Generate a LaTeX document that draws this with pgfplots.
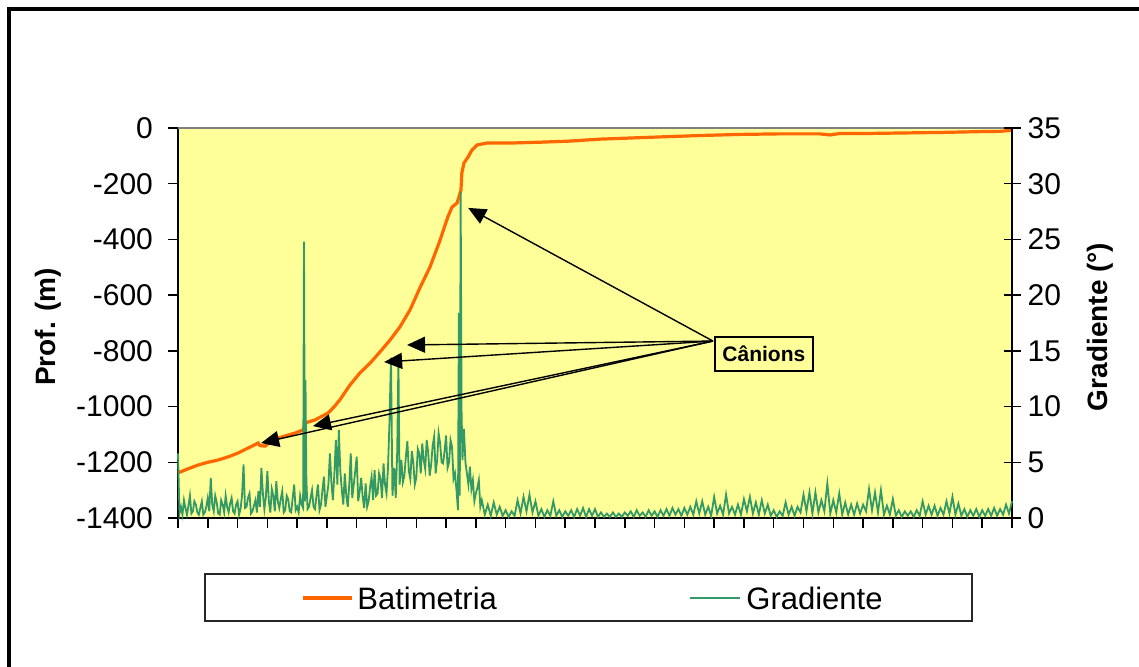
\documentclass[border=0pt]{standalone}
\usepackage{pgfplots}
\pgfplotsset{compat=1.18}
\usepackage{pgfplotstable}
\usepackage{fontspec}
\setmainfont{Liberation Sans}
\usetikzlibrary{arrows.meta}
\definecolor{bgyellow}{HTML}{FFFF99}
\definecolor{batorange}{HTML}{FF6600}
\definecolor{gradgreen}{HTML}{339966}

\pgfplotstableread{
x y
0 -1238
3 -1225
6.7 -1210
10 -1200
13.4 -1192
17 -1180
20.1 -1167
23.5 -1149
26.9 -1131
27.5 -1140
29.2 -1142
30.9 -1128
33.6 -1113
36.5 -1104
39.3 -1095
42.0 -1084
42.6 -1059
46.0 -1048
50.4 -1023
52.5 -1000
54.4 -975
57.7 -923
61.1 -879
64.5 -844
67.8 -804
71.2 -761
74.5 -714
77.9 -653
81.2 -574
84.6 -499
88.0 -402
90.6 -319
92.0 -284
93.7 -269
94.3 -248
95.0 -223
95.3 -161
96.0 -126
97.4 -104
98.7 -79
100.4 -61
103.7 -54
111.5 -54
121.5 -51
131.6 -47
141.7 -40
151.7 -36
161.8 -32
175.3 -27
188.7 -23
202.1 -21
215.5 -21
218.9 -25
222 -20
229 -20
242.4 -18
255.8 -16
269.3 -13
276 -12
280 -8
}\batimetria

\pgfplotstableread{
x y
0 5.8
0.5 0.4
1 1.0
1.5 0.3
2 1.6
2.5 0.9
3 0.3
3.5 1.1
4 2.0
4.5 0.4
5 0.6
5.5 1.5
6 1.2
6.5 0.5
7 0.3
7.5 0.9
8 1.5
8.5 0.3
9 0.5
9.5 1.0
10 1.8
10.5 0.6
11 3.6
11.5 1.2
12 0.6
12.5 2.0
13 1.4
13.5 0.4
14 0.3
14.5 1.6
15 1.2
15.5 0.5
16 2.0
16.5 1.0
17 0.5
17.5 1.3
18 1.8
18.5 0.6
19 0.4
19.5 1.2
20 1.5
20.5 0.3
21 0.8
21.5 2.0
22 4.8
22.5 0.9
23 1.0
23.5 1.8
24 2.2
24.5 0.4
25 0.6
25.5 1.1
26 1.6
26.5 0.5
27 2.4
27.5 1.0
28 4.5
28.5 2.2
29 0.8
29.5 1.9
30 4.2
30.5 1.5
31 0.5
31.5 2.6
32 2.0
32.5 0.6
33 3.3
33.5 1.5
34 0.9
34.5 1.7
35 2.4
35.5 0.5
36 0.7
36.5 2.0
37 1.7
37.5 0.6
38 0.5
38.5 1.8
39 3.0
39.5 0.7
40 1.0
40.5 0.5
41 2.0
41.5 1.2
42 0.9
42.3 24.8
42.6 1.5
42.8 12.4
43.1 3.4
43.5 0.8
44 1.0
44.5 1.8
45 2.5
45.5 1.0
46 0.8
46.5 2.0
47 3.0
47.5 0.7
48 1.2
48.5 2.5
49 3.7
49.5 1.0
50 2.0
50.5 3.0
51 5.8
51.5 3.2
52 1.6
52.5 4.0
53 7.0
53.5 3.0
54 7.9
54.5 4.2
55 2.5
55.5 1.2
56 4.0
56.5 2.0
57 1.0
57.5 3.0
58 5.8
58.5 1.8
59 3.0
59.5 4.2
60 5.5
60.5 1.5
61 2.4
61.5 3.6
62 1.9
62.5 0.9
63 3.1
63.5 1.0
64 1.5
64.5 2.8
65 3.7
65.5 1.6
66 4.3
66.5 2.0
67 2.2
67.5 4.0
68 3.5
68.5 1.8
69 4.9
69.5 3.0
70 2.2
70.5 4.5
71 8.6
71.5 14.4
72 2.0
72.6 4.5
73.1 1.8
73.6 6.0
74.0 14.2
74.4 3.0
75 5.2
75.5 3.2
76 3.8
76.5 5.5
77 6.9
77.5 4.2
78 3.5
78.5 6.0
79 5.0
79.5 3.0
80 3.6
80.5 6.2
81 5.8
81.5 4.0
82 6.7
82.5 5.2
83 4.4
83.5 7.0
84 5.9
84.5 3.8
85 4.8
85.5 6.5
86 7.3
86.5 4.0
87 5.2
87.5 7.6
88 6.7
88.5 5.0
89 4.9
89.5 6.0
90 7.4
90.5 4.5
91 5.0
91.5 7.0
92 6.4
92.5 3.5
93 4.0
93.5 2.5
94 0.7
94.3 18.4
94.6 2.0
94.9 29.3
95.2 9.7
95.5 5.2
96 8.0
96.5 5.0
97 4.0
97.5 3.0
98 4.6
98.5 2.6
99 3.4
99.5 1.5
100 2.2
100.5 2.7
101 3.4
101.5 1.0
102 1.6
103 0.3
104 1.2
105 0.2
106 1.4
107 0.3
108 1.0
109 0.2
110 0.7
111 0.1
112 0.6
113 0.2
114 1.6
115 0.4
116 1.9
117 0.6
118 2.1
119 0.5
120 1.5
121 0.2
122 0.8
123 0.1
124 0.7
125 0.2
126 1.5
127 0.2
128 0.7
129 0.1
130 0.6
131 0.2
132 0.7
133 0.1
134 0.8
135 0.2
136 0.9
137 0.1
138 0.8
139 0.2
140 0.8
141 0.1
142 0.5
143 0.1
144 0.4
145 0.1
146 0.5
147 0.1
148 0.4
149 0.1
150 0.5
151 0.2
152 0.6
153 0.1
154 0.7
155 0.2
156 0.5
157 0.1
158 0.7
159 0.2
160 0.6
161 0.1
162 0.7
163 0.2
164 0.8
165 0.2
166 0.9
167 0.3
168 0.8
169 0.2
170 0.9
171 0.3
172 1.0
173 0.3
174 1.5
175 0.4
176 1.5
177 0.3
178 1.0
179 0.2
180 1.9
181 0.4
182 1.1
183 0.3
184 2.1
185 0.4
186 1.0
187 0.3
188 1.2
189 0.3
190 1.7
191 0.6
192 1.9
193 0.4
194 1.4
195 0.3
196 1.6
197 0.4
198 1.2
199 0.2
200 0.7
201 0.1
202 0.6
203 0.2
204 1.4
205 0.3
206 1.0
207 0.2
208 1.0
209 0.5
210 2.1
211 0.6
212 2.3
213 0.4
214 2.3
215 0.5
216 1.6
217 0.6
218 3.1
219 0.4
220 1.6
221 0.5
222 2.2
223 0.3
224 1.4
225 0.3
226 1.2
227 0.3
228 1.3
229 0.4
230 1.2
231 0.6
232 2.6
233 0.7
234 2.3
235 0.5
236 2.5
237 0.3
238 1.1
239 0.3
240 1.7
241 0.2
242 0.7
243 0.1
244 0.6
245 0.2
246 0.6
247 0.1
248 0.7
249 0.2
250 1.5
251 0.3
252 1.1
253 0.3
254 1.1
255 0.2
256 0.9
257 0.3
258 1.5
259 0.4
260 1.9
261 0.3
262 1.3
263 0.2
264 0.8
265 0.1
266 0.7
267 0.2
268 0.8
269 0.1
270 0.7
271 0.2
272 0.8
273 0.2
274 0.9
275 0.2
276 0.8
277 0.3
278 1.2
279 0.4
280 1.5
}\gradiente

\begin{document}
\begin{tikzpicture}
\useasboundingbox (0,0) rectangle (569.5pt,333pt);
\begin{scope}[x=0.5pt,y=0.5pt]
\clip (0,0) rectangle (1139,666);
\draw[line width=2pt] (9,657) rectangle (1170,-30);
\end{scope}

\begin{axis}[
  at={(89pt,74pt)}, anchor=south west,
  scale only axis, width=417pt, height=195pt,
  xmin=0, xmax=280, ymin=-1400, ymax=0,
  axis x line*=bottom, axis y line*=left,
  axis background/.style={fill=bgyellow},
  clip=false,
  xtick={0,10,...,280}, xticklabels={},
  ytick={-1400,-1200,...,0},
  tick align=outside, major tick length=5pt,
  tick style={black, line width=0.75pt},
  axis line style={black, line width=0.75pt},
  ticklabel style={font=\fontsize{15}{18}\selectfont},
  yticklabel style={xshift=-4pt},
  /pgf/number format/assume math mode=true,
  /pgf/number format/1000 sep={},
  ylabel={Prof. (m)},
  ylabel style={font=\bfseries\fontsize{14}{17}\selectfont, at={(axis description cs:-0.156,0.49)}, anchor=center},
]
\draw[gray, line width=0.75pt] (rel axis cs:0,1) -- (rel axis cs:1,1);
\addplot[batorange, line width=1.6pt] table {\batimetria};
\end{axis}

\begin{axis}[
  at={(89pt,74pt)}, anchor=south west,
  scale only axis, width=417pt, height=195pt,
  xmin=0, xmax=280, ymin=0, ymax=35,
  axis x line=none, axis y line*=right,
  clip=false,
  ytick={0,5,...,35},
  tick align=center, major tick length=8.5pt,
  tick style={black, line width=0.75pt},
  axis line style={black, line width=0.75pt},
  ticklabel style={font=\fontsize{15}{18}\selectfont},
  /pgf/number format/assume math mode=true,
  ylabel={Gradiente (°)},
  ylabel style={font=\bfseries\fontsize{14}{17}\selectfont, at={(axis description cs:1.1055,0.49)}, anchor=center},
]
\addplot[gradgreen, line width=0.9pt] table {\gradiente};
\begin{scope}[line width=0.7pt, -{Triangle[length=9pt,width=8pt]}]
\draw (axis cs:179.6,15.88) -- (axis cs:97.4,27.83);
\draw (axis cs:179.6,15.88) -- (axis cs:76.9,15.53);
\draw (axis cs:179.6,15.88) -- (axis cs:69.2,14.0);
\draw (axis cs:179.6,15.88) -- (axis cs:45.3,8.25);
\draw (axis cs:179.6,15.88) -- (axis cs:27.9,6.73);
\end{scope}
\node[draw, line width=1pt, fill=bgyellow, font=\bfseries\fontsize{10.5}{12}\selectfont, minimum width=49pt, minimum height=17pt, inner sep=0pt] at (axis cs:196.7,14.73) {Cânions};
\end{axis}

\begin{scope}[x=0.5pt,y=0.5pt]
\draw[line width=1pt, black!85] (205,92) rectangle (972,45);
\draw[batorange, line width=1.6pt] (303,68) -- (352,68);
\node[anchor=west, inner sep=0pt, font=\fontsize{15.5}{18}\selectfont] at (357,68) {Batimetria};
\draw[gradgreen, line width=0.9pt] (690,68) -- (740,68);
\node[anchor=west, inner sep=0pt, font=\fontsize{15.5}{18}\selectfont] at (746,68) {Gradiente};
\end{scope}
\end{tikzpicture}
\end{document}
